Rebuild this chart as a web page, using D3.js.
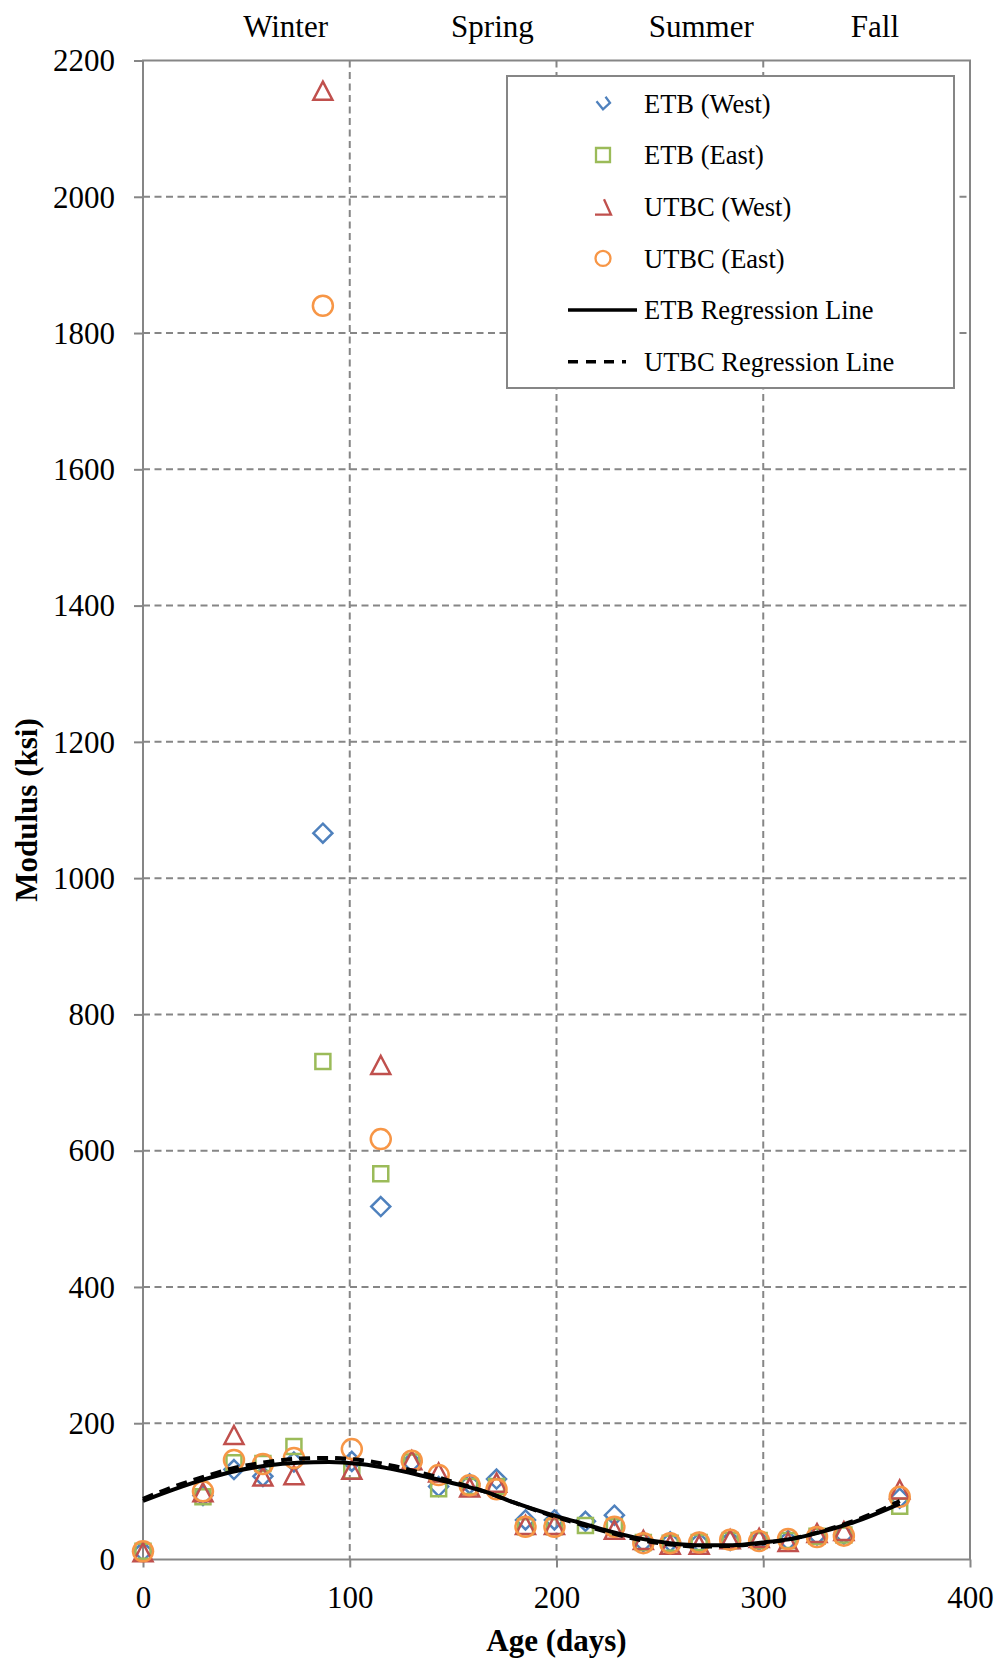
<!DOCTYPE html>
<html>
<head>
<meta charset="utf-8">
<script src="https://cdn.jsdelivr.net/npm/d3@7"></script>
<style>
  html, body { margin: 0; padding: 0; background: #fff; }
  svg { display: block; font-family: "Liberation Serif", "Times New Roman", serif; }
</style>
</head>
<body>
<svg id="chart" width="1000" height="1664"></svg>
<script>
// Sampling ages (days)
const ages = [0, 29, 44, 58, 73, 87, 101, 115, 130, 143, 158, 171, 185, 199, 214, 228, 242, 255, 269, 284, 298, 312, 326, 339, 366];

// Back-calculated modulus (ksi) per section; null = not tested that day
const etbWest  = [12, 94, 132, 122, 143, 1066, 144, 518, 143, 107, 111, 118, 58, 58, 56, 65, 26, 26, 25, 28, 28, 28, 36, 37, 90];
const etbEast  = [12, 92, 142, 141, 166, 731, 130, 566, 143, 104, 107, 107, 48, 48, 50, 48, 25, 24, 25, 28, 28, 28, 34, 36, 78];
const utbcWest = [10, 98, 182, 121, 123, 2155, 131, 725, 145, 127, 105, 112, 50, 50, null, 43, 28, 21, 21, 29, 31, 25, 38, 41, 102];
const utbcEast = [12, 100, 146, 140, 149, 1840, 162, 617, 145, 124, 109, 103, 48, 48, null, 48, 24, 24, 25, 29, 27, 30, 33, 35, 92];

// Seasonal regression curves (ksi) at the listed ages
const regAges = [0, 15, 30, 45, 60, 75, 90, 105, 120, 135, 150, 165, 180, 195, 210, 225, 240, 255, 270, 285, 300, 315, 330, 345, 360, 366];
const etbReg  = [86, 103, 118, 130, 138, 142, 143, 140, 133, 123, 112, 100, 83, 68, 55, 42, 31, 24, 21, 21, 25, 31, 42, 56, 74, 82];
const utbcReg = [89, 107, 122, 135, 143, 148, 149, 146, 138, 127, 114, 100, 83, 67, 53, 40, 29, 22, 19, 20, 24, 31, 43, 58, 77, 86];

// Axis ticks and season captions
const xTicks = [0, 100, 200, 300, 400];
const yTicks = [0, 200, 400, 600, 800, 1000, 1200, 1400, 1600, 1800, 2000, 2200];
const seasons = ["Winter", "Spring", "Summer", "Fall"];
const seasonAges = [69, 169, 270, 354];

const legendLabels = ["ETB (West)", "ETB (East)", "UTBC (West)", "UTBC (East)", "ETB Regression Line", "UTBC Regression Line"];

const colors = { blue: "#4F81BD", green: "#9BBB59", red: "#C0504D", orange: "#F79646" };
const gridColor = "#868686";

const svg = d3.select("#chart");
const plotLeft = 143, plotRight = 970, plotTop = 60.5, plotBottom = 1559.5;

const x = d3.scaleLinear().domain([0, 400]).range([plotLeft, plotRight]);
const y = d3.scaleLinear().domain([0, 2200]).range([plotBottom, plotTop]);

// Gridlines
const grid = svg.append("g");
grid.selectAll("line.h").data(yTicks.filter(v => v > 0 && v < 2200)).join("line")
  .attr("x1", plotLeft).attr("x2", plotRight)
  .attr("y1", d => y(d)).attr("y2", d => y(d))
  .attr("stroke", gridColor).attr("stroke-width", 2).attr("stroke-dasharray", "7,4.5");
grid.selectAll("line.v").data(xTicks.filter(v => v > 0 && v < 400)).join("line")
  .attr("y1", plotTop).attr("y2", plotBottom)
  .attr("x1", d => x(d)).attr("x2", d => x(d))
  .attr("stroke", gridColor).attr("stroke-width", 2).attr("stroke-dasharray", "7,4.5");

// Plot frame
svg.append("rect").attr("x", plotLeft).attr("y", plotTop)
  .attr("width", plotRight - plotLeft).attr("height", plotBottom - plotTop)
  .attr("fill", "none").attr("stroke", gridColor).attr("stroke-width", 2);

// Axes
const xAxis = svg.append("g").attr("transform", `translate(0,${plotBottom})`)
  .call(d3.axisBottom(x).tickValues(xTicks).tickSize(8).tickPadding(0).tickFormat(d3.format("d")));
xAxis.select(".domain").remove();
xAxis.selectAll(".tick line").attr("stroke", gridColor).attr("stroke-width", 2);
xAxis.selectAll(".tick text").attr("y", 38).attr("dy", "0.33em")
  .attr("font-size", 31).attr("fill", "#000").attr("font-family", "Liberation Serif");

const yAxis = svg.append("g").attr("transform", `translate(${plotLeft},0)`)
  .call(d3.axisLeft(y).tickValues(yTicks).tickSize(9).tickPadding(19).tickFormat(d3.format("d")));
yAxis.select(".domain").remove();
yAxis.selectAll(".tick line").attr("stroke", gridColor).attr("stroke-width", 2);
yAxis.selectAll(".tick text").attr("dy", "0.33em")
  .attr("font-size", 31).attr("fill", "#000").attr("font-family", "Liberation Serif");

// Axis titles
svg.append("text").attr("x", (plotLeft + plotRight) / 2).attr("y", 1651)
  .attr("text-anchor", "middle").attr("font-size", 31).attr("font-weight", "bold")
  .text("Age (days)");
svg.append("text").attr("transform", `translate(37,${(plotTop + plotBottom) / 2}) rotate(-90)`)
  .attr("text-anchor", "middle").attr("font-size", 31).attr("font-weight", "bold")
  .text("Modulus (ksi)");

// Season captions above the plot
svg.append("g").selectAll("text").data(seasons).join("text")
  .attr("x", (d, i) => x(seasonAges[i])).attr("y", 37)
  .attr("text-anchor", "middle").attr("font-size", 31)
  .text(d => d);

// Marker shapes, centred on the origin
const shapes = {
  diamond: "M0,-9.5L9.5,0L0,9.5L-9.5,0Z",
  square: "M-7.5,-7.5H7.5V7.5H-7.5Z",
  triangle: "M0,-9.5L9.5,8.5H-9.5Z",
  circle: "M10,0A10,10 0 1,1 -10,0A10,10 0 1,1 10,0Z"
};

const series = [
  { values: etbWest,  shape: "diamond",  color: colors.blue },
  { values: etbEast,  shape: "square",   color: colors.green },
  { values: utbcWest, shape: "triangle", color: colors.red },
  { values: utbcEast, shape: "circle",   color: colors.orange }
];

series.forEach(s => {
  const pts = ages.map((a, i) => ({ a, v: s.values[i] })).filter(p => p.v != null);
  svg.append("g").selectAll("path").data(pts).join("path")
    .attr("d", shapes[s.shape])
    .attr("transform", p => `translate(${x(p.a)},${y(p.v)})`)
    .attr("fill", "none").attr("stroke", s.color).attr("stroke-width", 2.5)
    .attr("stroke-linejoin", "miter");
});

// Regression curves
const line = d3.line().x((d, i) => x(regAges[i])).y(d => y(d)).curve(d3.curveMonotoneX);
svg.append("path").datum(etbReg).attr("d", line)
  .attr("fill", "none").attr("stroke", "#000").attr("stroke-width", 4);
svg.append("path").datum(utbcReg).attr("d", line)
  .attr("fill", "none").attr("stroke", "#000").attr("stroke-width", 4)
  .attr("stroke-dasharray", "11,7");

// Legend
const lg = svg.append("g");
lg.append("rect").attr("x", 507).attr("y", 76).attr("width", 447).attr("height", 312)
  .attr("fill", "#fff").attr("stroke", gridColor).attr("stroke-width", 2);
const rowY = i => 103.3 + i * 51.7;
const mx = 603;
// partially drawn marker glyphs, as the legend renders them
lg.append("path").attr("d", `M${mx - 6.5},${rowY(0) - 2}L${mx},${rowY(0) + 6}L${mx + 7},${rowY(0) - 0.5}L${mx + 2.5},${rowY(0) - 6.5}`)
  .attr("fill", "none").attr("stroke", colors.blue).attr("stroke-width", 2.3);
lg.append("path").attr("d", `M${mx - 7},${rowY(1) - 7}H${mx + 7}V${rowY(1) + 7}H${mx - 7}Z`)
  .attr("fill", "none").attr("stroke", colors.green).attr("stroke-width", 2.3);
lg.append("path").attr("d", `M${mx + 1},${rowY(2) - 7.5}L${mx + 8},${rowY(2) + 8}H${mx - 8}`)
  .attr("fill", "none").attr("stroke", colors.red).attr("stroke-width", 2.3);
lg.append("circle").attr("cx", mx).attr("cy", rowY(3)).attr("r", 7.5)
  .attr("fill", "none").attr("stroke", colors.orange).attr("stroke-width", 2.3);
lg.append("line").attr("x1", 568).attr("x2", 637).attr("y1", rowY(4)).attr("y2", rowY(4))
  .attr("stroke", "#000").attr("stroke-width", 3.5);
lg.append("line").attr("x1", 568).attr("x2", 626).attr("y1", rowY(5)).attr("y2", rowY(5))
  .attr("stroke", "#000").attr("stroke-width", 3.5).attr("stroke-dasharray", "10,8");
lg.selectAll("text").data(legendLabels).join("text")
  .attr("x", 644).attr("y", (d, i) => rowY(i)).attr("dy", "0.35em")
  .attr("font-size", 26.5).text(d => d);
</script>
</body>
</html>
